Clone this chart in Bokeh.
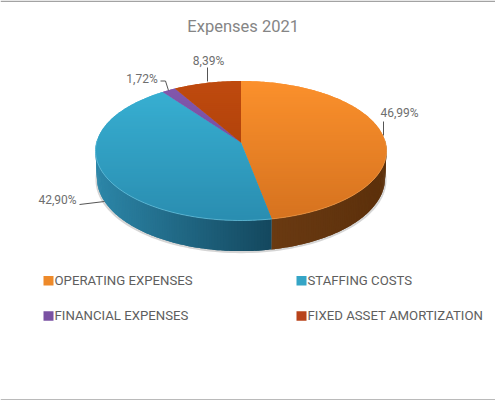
import math
from bokeh.plotting import figure
from bokeh.embed import file_html
from bokeh.resources import INLINE
from bokeh.core.properties import value
from bokeh.models import Range1d

TITLE = "Expenses 2021"
categories = ["OPERATING EXPENSES", "STAFFING COSTS", "FINANCIAL EXPENSES", "FIXED ASSET AMORTIZATION"]
shares = [46.99, 42.90, 1.72, 8.39]
labels = ["46,99%", "42,90%", "1,72%", "8,39%"]

top_hi = ["#fb902c", "#38b1d4", "#8358ad", "#bf4a0e"]
top_lo = ["#d5721f", "#2a8db0", "#6a4590", "#a23a08"]
side_l = ["#6a3a12", "#2c86a8", "#4a3068", "#6a2a08"]
side_r = ["#5c300b", "#14485f", "#3a2550", "#5a2206"]
rim = ["#f0a050", "#70c8e2", "#9a78c0", "#d06a30"]
swatch = ["#ee8a2a", "#35a5c6", "#7a52a3", "#b8431a"]
FONT = "Roboto"

CX, CY, A, B, K, D = 240.5, 142, 144.5, 68.8, 0.118, 27


def proj(theta):
    X, Y = math.sin(theta), math.cos(theta)
    f = 1 / (1 + K * Y)
    return CX + A * X * f, CY - B * Y * f, f


def hexrgb(h):
    return [int(h[i:i + 2], 16) for i in (1, 3, 5)]


def mix(c1, c2, t):
    t = max(0, min(1, t))
    a, b = hexrgb(c1), hexrgb(c2)
    return "#%02x%02x%02x" % tuple(round(a[i] + (b[i] - a[i]) * t) for i in range(3))


def clip(poly, y0, y1):
    def cut(pts, inside, yc):
        out = []
        for i, p in enumerate(pts):
            q = pts[(i + 1) % len(pts)]
            if inside(p):
                out.append(p)
            if inside(p) != inside(q):
                t = (yc - p[1]) / (q[1] - p[1])
                out.append((p[0] + (q[0] - p[0]) * t, yc))
        return out
    r = cut(poly, lambda p: p[1] >= y0, y0)
    if r:
        r = cut(r, lambda p: p[1] <= y1, y1)
    return r


p = figure(width=495, height=400, output_backend="svg", toolbar_location=None,
           x_range=Range1d(0, 495), y_range=Range1d(400, 0),
           x_axis_type=None, y_axis_type=None, min_border=0,
           outline_line_color=None)
p.grid.visible = False

# frame lines
p.segment([0, 0], [0.7, 399.4], [495, 495], [0.7, 399.4], line_color="#a3a3a3", line_width=1.4)

total = sum(shares)
spans, a0 = [], 0.0
for s in shares:
    a1 = a0 + s / total * 2 * math.pi
    spans.append((a0, a1))
    a0 = a1

# soft shadow under the disc
sh = [proj(math.radians(d)) for d in range(80, 281, 2)]
p.patch([q[0] for q in sh], [q[1] + (D + 1.8) * q[2] for q in sh],
        fill_color="#888888", fill_alpha=0.35, line_color=None)

# side wall: each strip overlaps the next, so no seams show
for i, (s0, s1) in enumerate(spans):
    lo, hi = max(s0, math.radians(88)), min(s1, math.radians(272))
    if lo >= hi:
        continue
    sx, sy, sc = [], [], []
    n = max(1, int(math.degrees(hi - lo)))
    for j in range(n):
        t0 = lo + (hi - lo) * j / n
        t1 = min(lo + (hi - lo) * (j + 2) / n, hi)
        pts = [proj(t0 + (t1 - t0) * k / 2) for k in range(3)]
        sx.append([q[0] for q in pts] + [CX + (q[0] - CX) * 0.99 for q in reversed(pts)])
        sy.append([q[1] for q in pts] + [q[1] + D * q[2] for q in reversed(pts)])
        if i == 0:
            sc.append(mix(side_l[i], side_r[i], (pts[0][0] - proj(s1)[0]) / 115))
        else:
            sc.append(mix(side_l[i], side_r[i], (pts[0][0] - 96) / 174))
    p.patches(sx, sy, fill_color=sc, line_color=None)

# top faces, shaded in overlapping horizontal bands
for i, (s0, s1) in enumerate(spans):
    n = max(2, int(math.degrees(s1 - s0)))
    poly = [(CX, CY)] + [proj(s0 + (s1 - s0) * j / n)[:2] for j in range(n + 1)]
    bx, by, bc = [], [], []
    y = 79.0
    while y < 222:
        c = clip(poly, y, y + 4.0)
        if c:
            bx.append([q[0] for q in c])
            by.append([q[1] for q in c])
            bc.append(mix(top_hi[i], top_lo[i], (y - 80) / 140))
        y += 2
    p.patches(bx, by, fill_color=bc, line_color=None)
    lo, hi = max(s0, math.radians(88)), min(s1, math.radians(272))
    if lo < hi:
        arc = [proj(lo + (hi - lo) * j / 60) for j in range(61)]
        p.line([q[0] for q in arc], [q[1] for q in arc], line_color=rim[i], line_alpha=0.7, line_width=0.9)

# leader lines
lead_x = [[383, 383], [79, 104], [160, 165, 168], [207, 207]]
lead_y = [[121, 135], [204, 201], [80.5, 80.5, 90], [67, 81]]
p.multi_line(lead_x, lead_y, line_color="#555555", line_width=1)

# data labels
p.text([399, 57, 141.5, 208], [112, 199.5, 78, 60.5], text=labels,
       text_font=value(FONT), text_font_size="12px", text_color="#6e6e6e",
       text_align="center", text_baseline="middle")

# title
p.text([242.7], [26], text=[TITLE], text_font=value(FONT), text_font_size="16.5px",
       text_color="#858585", text_align="center", text_baseline="middle")

# legend
leg_x = [43, 296, 43, 296]
leg_y = [280.3, 280.3, 315.5, 315.5]
p.rect([x + 5 for x in leg_x], leg_y, width=10, height=9.5, fill_color=swatch, line_color=None)
p.text([x + 11 for x in leg_x], [y - 0.5 for y in leg_y], text=categories,
       text_font=value(FONT), text_font_size="13.2px", text_color="#5e5e5e",
       text_align="left", text_baseline="middle")

open("out.html", "w").write(file_html(p, INLINE))
